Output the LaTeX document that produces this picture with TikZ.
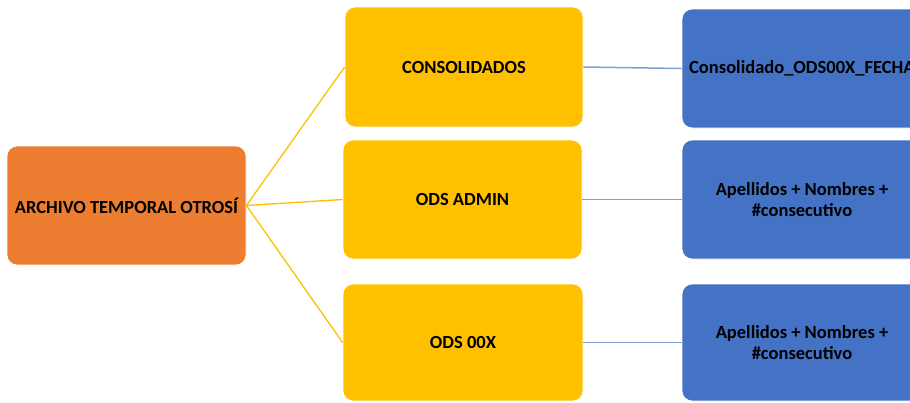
\documentclass[tikz,border=0pt]{standalone}
\usepackage{fontspec}
\setmainfont{Carlito}
\definecolor{orangebox}{HTML}{ED7D31}
\definecolor{yellowbox}{HTML}{FFC000}
\definecolor{bluebox}{HTML}{4472C4}
\definecolor{blueline}{HTML}{7F9FD6}
\begin{document}
\begin{tikzpicture}[x=1pt,y=-1pt,
  box/.style={draw=white,line width=0.8pt,rounded corners=10pt,inner sep=0pt,align=center,
    font=\fontsize{18.5}{20.5}\selectfont\bfseries,text=black},
  obox/.style={box,fill=orangebox},
  ybox/.style={box,fill=yellowbox},
  bbox/.style={box,fill=bluebox},
  yline/.style={draw=yellowbox,line width=1.3pt},
  bline/.style={draw=blueline,line width=1.5pt}]
\useasboundingbox (0,0) rectangle (910,402);
\begin{scope}
\clip (0,0) rectangle (910,402);
\node[obox,minimum width=239pt,minimum height=119pt] (o) at (126.5,205.5) {ARCHIVO TEMPORAL OTROSÍ};
\node[ybox,minimum width=238pt,minimum height=120pt] (y1) at (464,67) {CONSOLIDADOS};
\node[ybox,minimum width=239pt,minimum height=119pt] (y2) at (462.5,199.5) {ODS ADMIN};
\node[ybox,minimum width=240pt,minimum height=117pt] (y3) at (463,342.5) {ODS 00X};
\node[bbox,minimum width=240pt,minimum height=119pt] (b1) at (802,68.5) {};
\node[font=\fontsize{18.5}{20.5}\selectfont\bfseries,anchor=west,inner sep=0pt] (t1) at (689,68.5) {Consolidado\_ODS00X\_FECHA};
\node[bbox,minimum width=240pt,minimum height=119pt] (b2) at (802,199.5) {Apellidos + Nombres +\\\#consecutivo};
\node[bbox,minimum width=240pt,minimum height=117pt] (b3) at (802,342.5) {Apellidos + Nombres +\\\#consecutivo};
\draw[yline] (o.east) -- (y1.west);
\draw[yline] (o.east) -- (y2.west);
\draw[yline] (o.east) -- (y3.west);
\draw[bline] (y1.east) -- (b1.west);
\draw[bline] (y2.east) -- (b2.west);
\draw[bline] (y3.east) -- (b3.west);
\end{scope}
\end{tikzpicture}
\end{document}
